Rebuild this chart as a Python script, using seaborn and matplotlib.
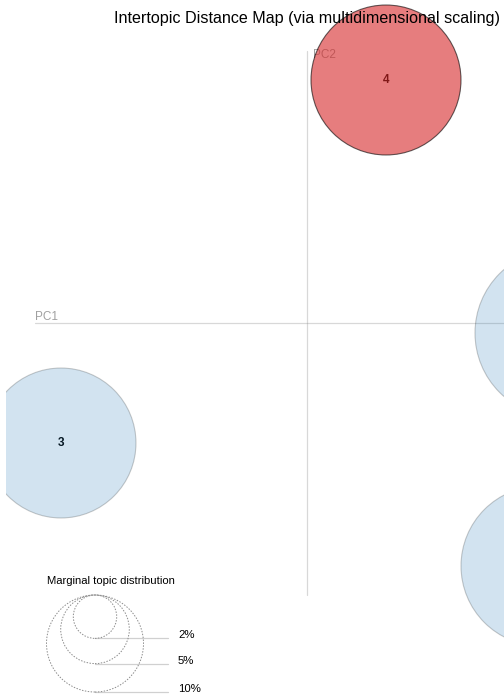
import matplotlib
matplotlib.use("Agg")
import numpy as np
import matplotlib.pyplot as plt
import seaborn as sns
from matplotlib.patches import Circle

# topic coordinates on the two principal components and marginal share (%)
topic_ids = [1, 2, 3, 4]
topic_pc1 = [0.252, 0.234, -0.246, 0.079]
topic_pc2 = [-0.010, -0.243, -0.120, 0.243]
topic_share = [30.0, 27.2, 23.9, 23.9]
selected_topic = 4

legend_shares = [2, 5, 10]
legend_labels = ["2%", "5%", "10%"]

# radius (data units) per sqrt(percent)
RADIUS_K = 0.01534

sns.set_theme(style="white")
plt.rcParams["font.family"] = ["Liberation Sans", "DejaVu Sans"]

W, H, DPI = 504, 698, 100
fig = plt.figure(figsize=(W / DPI, H / DPI), dpi=DPI)
ax = fig.add_axes([6 / W, 0, 1 - 6 / W, 1])
xlim, ylim = (-0.301, 0.197), (-0.375, 0.323)
ax.set_xlim(*xlim)
ax.set_ylim(*ylim)
ax.set_axis_off()

# PC axes
axis_len = 0.272
ax.plot([-axis_len, axis_len], [0, 0], color="gray", alpha=0.3, lw=0.9, zorder=1)
ax.plot([0, 0], [-axis_len, axis_len], color="gray", alpha=0.3, lw=0.9, zorder=1)
ax.text(-axis_len, 0.0035, "PC1", color="#a0a0a0", fontsize=8.5, ha="left", va="baseline", zorder=1)
ax.text(0.006, axis_len - 0.0045, "PC2", color="#a0a0a0", fontsize=8.5, ha="left", va="center", zorder=1)

# topic labels sit under the circles (only those whose centre is on screen)
for t, x, y in zip(topic_ids, topic_pc1, topic_pc2):
    if xlim[0] < x < xlim[1] - 0.01 and ylim[0] < y < ylim[1]:
        ax.text(x, y, str(t), ha="center", va="center", fontsize=8.5, fontweight="bold",
                color="black", zorder=2)

for t, x, y, p in zip(topic_ids, topic_pc1, topic_pc2, topic_share):
    r = RADIUS_K * np.sqrt(p)
    if t == selected_topic:
        c = Circle((x, y), r, facecolor="#d62728", edgecolor="black", alpha=0.6, lw=0.8, zorder=3)
    else:
        c = Circle((x, y), r, facecolor="#1f77b4", edgecolor="black", alpha=0.2, lw=0.8, zorder=3)
    ax.add_patch(c)

ax.text(0, 0.305, "Intertopic Distance Map (via multidimensional scaling)",
        ha="center", va="center", fontsize=11.6, color="black", zorder=5)

# marginal topic distribution legend
leg_x, leg_top = -0.212, -0.272
ax.text(-0.260, -0.258, "Marginal topic distribution", ha="left", va="center",
        fontsize=8.1, color="black")
for p, lab in zip(legend_shares, legend_labels):
    r = RADIUS_K * np.sqrt(p)
    ax.add_patch(Circle((leg_x, leg_top - r), r, facecolor="none", edgecolor="#8c8c8c",
                        lw=0.7, linestyle=(0, (1.5, 1.5)), zorder=2))
    ax.plot([leg_x, -0.139], [leg_top - 2 * r, leg_top - 2 * r], color="#d0d0d0", lw=0.9, zorder=1)
    ax.text(-0.129, leg_top - 2 * r + 0.003, lab, ha="left", va="center", fontsize=8.2, color="black")

fig.savefig("out.png", dpi=DPI)
